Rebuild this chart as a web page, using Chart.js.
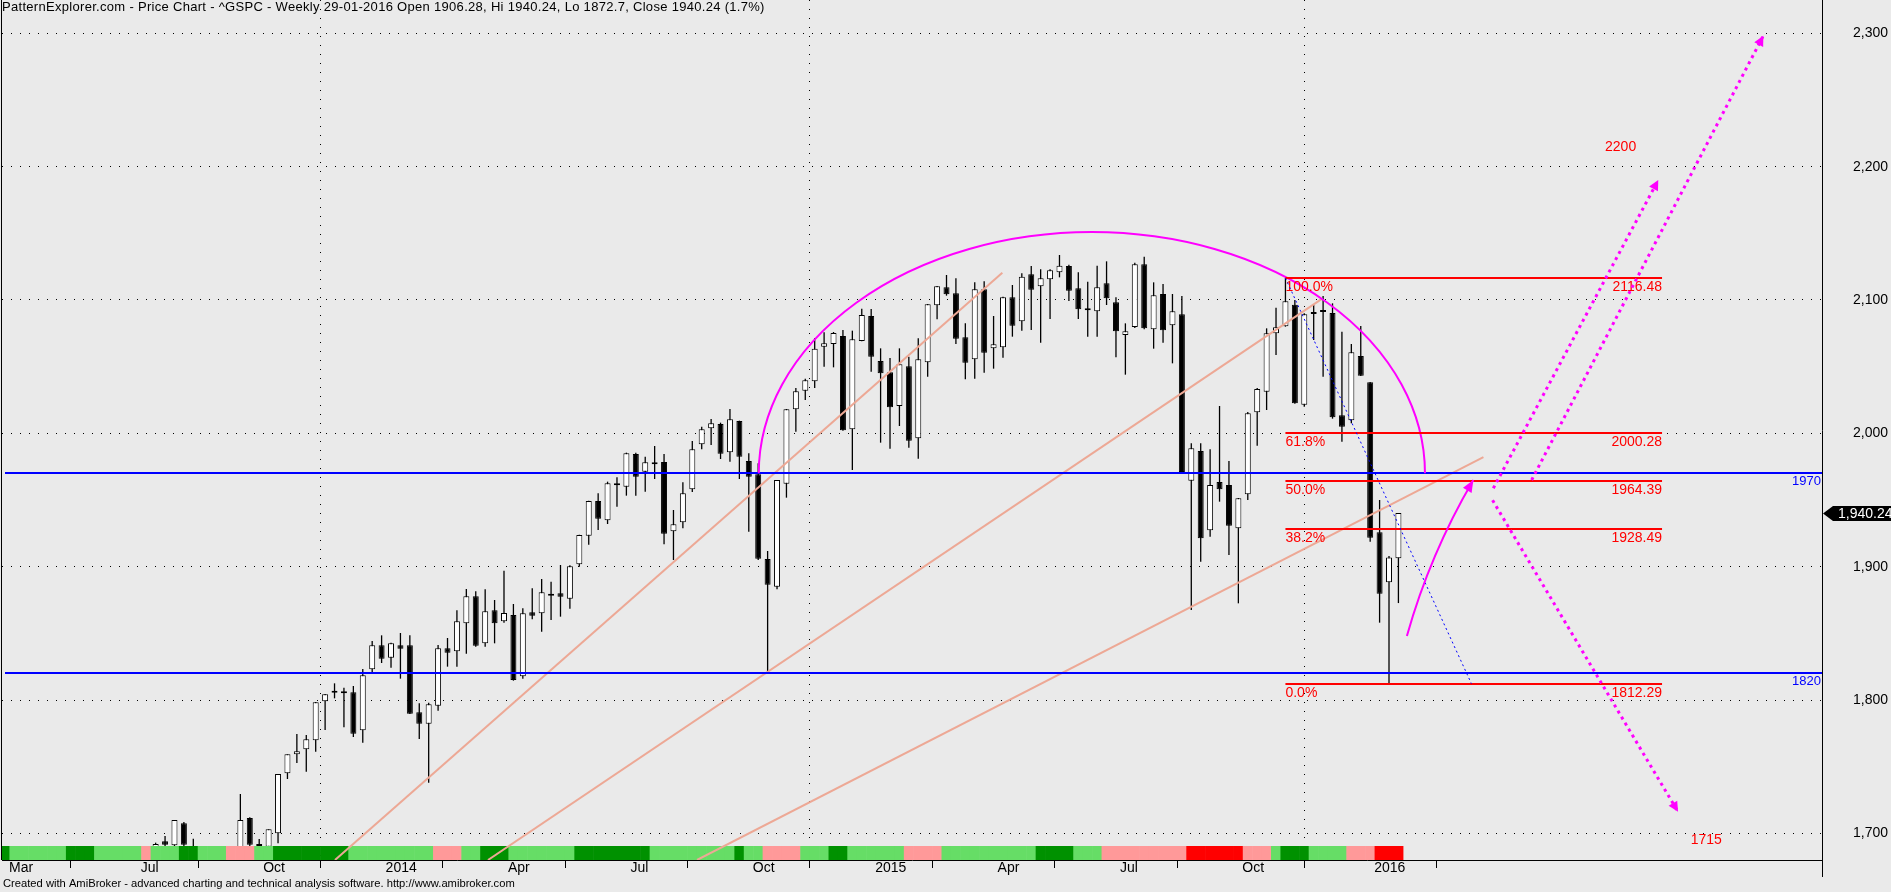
<!DOCTYPE html>
<html>
<head>
<meta charset="utf-8">
<title>^GSPC Weekly</title>
<script src="https://cdn.jsdelivr.net/npm/chart.js@4.4.1/dist/chart.umd.min.js"></script>
<style>
  html, body { margin: 0; padding: 0; background: #eaeaea; overflow: hidden; }
  #wrap { width: 1891px; height: 892px; }
</style>
</head>
<body>
<div id="wrap"><canvas id="chart" width="1891" height="892"></canvas></div>
<script>
// ---- Weekly S&P 500 (^GSPC) bars, week ending 28-03-2013 .. 29-01-2016 ----
const opens = [
  1552, 1569, 1553, 1588, 1556, 1582, 1614, 1633, 1666, 1652, 1631, 1643, 1626, 1593, 1607, 1632,
  1680, 1694, 1691, 1707.5, 1690, 1656, 1664, 1635, 1656, 1688, 1711.5, 1691, 1690, 1700, 1745, 1759.25,
  1763, 1769.75, 1799, 1805.5, 1806.5, 1805.75, 1777.25, 1823, 1841, 1831.75, 1841, 1841, 1790.75, 1782.25, 1795.75, 1838.75,
  1836.5, 1857.5, 1877.75, 1842.5, 1867.25, 1859, 1863.75, 1817.75, 1865.75, 1865, 1878.75, 1880, 1876, 1901.75, 1923.25, 1949.25,
  1934.75, 1962.5, 1960, 1984.5, 1971.25, 1976.75, 1978.5, 1926.5, 1933.25, 1958, 1991.75, 2003.75, 2007, 1985.75, 2009.25, 1979.25,
  1969.25, 1905.75, 1885, 1962.25, 2018, 2032, 2039, 2065, 2067, 2073, 2003, 2069.25, 2088, 2054.25, 2045.75, 2020.5,
  2050.25, 1996.25, 2053.25, 2096, 2109.5, 2105, 2072, 2055.5, 2108, 2063.75, 2064.5, 2102, 2084, 2119.25, 2110.25, 2115.5,
  2120.75, 2125.5, 2108.75, 2092.25, 2091.5, 2112.5, 2098.25, 2073.75, 2079.75, 2126.75, 2078, 2104.5, 2081, 2089.25, 1964.5, 1986.75,
  1927.25, 1963.5, 1961.25, 1928.75, 1954.25, 2015.75, 2031.25, 2075, 2080.25, 2096.5, 2021.5, 2089.5, 2091, 2090.25, 2013.5, 2009.75,
  2058, 2038.25, 1925.75, 1888.25, 1906.28
];
const highs = [
  1570, 1573, 1597, 1589, 1592, 1618, 1635, 1667, 1687, 1674, 1644, 1654, 1654, 1620, 1632, 1687,
  1693, 1698, 1710, 1708.5, 1696, 1669, 1670, 1664, 1689, 1729.5, 1712, 1695.75, 1703, 1744.5, 1759.25, 1774.5,
  1773.75, 1798.5, 1804.5, 1812.5, 1809.25, 1810.5, 1823.25, 1844.25, 1848.5, 1843, 1850.25, 1848.5, 1797.5, 1798, 1841.25, 1846.5,
  1867.25, 1883.25, 1881.5, 1883, 1875, 1897, 1872, 1868.75, 1883.75, 1890.75, 1888.75, 1901.25, 1901, 1924, 1949.5, 1955,
  1963.75, 1967, 1985.5, 1985.5, 1982.5, 1990.5, 1984.5, 1942.5, 1963.25, 1994.25, 2005, 2010.75, 2008, 2018.25, 2009.5, 1985,
  1977.5, 1911.75, 1965, 2018.25, 2034, 2041, 2071.5, 2075.75, 2076, 2077.5, 2077, 2093.5, 2093.25, 2063.75, 2056.5, 2063.75,
  2057.5, 2071.25, 2097, 2110.5, 2118.75, 2116.25, 2082.5, 2113.25, 2114, 2088, 2102.5, 2111.25, 2120, 2125.5, 2123, 2123,
  2133.75, 2126.5, 2120.75, 2113.75, 2125.75, 2129, 2102, 2082.5, 2128, 2132.5, 2113.25, 2112, 2104.5, 2103, 1992.5, 1992.5,
  1988, 2020.5, 1979.25, 1951.5, 2016, 2034, 2078.75, 2094.25, 2116.48, 2100, 2090, 2096.5, 2103, 2097.5, 2076.25, 2067,
  2080.5, 2038.5, 1950, 1908, 1940.24
];
const lows = [
  1546, 1539, 1548, 1536, 1555, 1577, 1614, 1625, 1635, 1631, 1599, 1620, 1577, 1560, 1605, 1632,
  1672, 1676, 1681, 1685, 1652, 1639, 1627, 1633, 1655, 1686, 1687, 1670, 1646, 1692.5, 1740.75, 1752.75,
  1746.25, 1761.25, 1777.5, 1801.25, 1779.5, 1772.25, 1768, 1821, 1827.75, 1824.25, 1816, 1789.5, 1770.75, 1738, 1792, 1825,
  1825, 1834.75, 1840, 1840, 1842.5, 1858, 1814.5, 1816, 1860.5, 1851.25, 1860, 1862.5, 1868.5, 1900, 1916.5, 1927.5,
  1932, 1945, 1953.25, 1953.25, 1956.25, 1965.75, 1916.75, 1905, 1928.75, 1956, 1988, 1991.25, 1980.75, 1978.75, 1965.75, 1926.25,
  1905, 1820.5, 1883, 1951.75, 2001.25, 2025, 2034, 2050, 2049.5, 2002, 1972.5, 2069, 2046.25, 1993, 1988.5, 2005.5,
  1989.25, 1981, 2042.5, 2085.5, 2103.25, 2067, 2040.5, 2041, 2045.5, 2048.5, 2056.75, 2072.5, 2077, 2077.5, 2068, 2085.75,
  2117, 2099.25, 2085.75, 2072.5, 2072.5, 2096.25, 2057, 2044, 2079, 2078, 2063.5, 2068, 2052.5, 1971, 1867.5, 1903.75,
  1922.5, 1948.75, 1908.75, 1872.5, 1950, 1990.75, 2017.5, 2058.75, 2080, 2022.25, 2020, 2070, 2042.5, 2011, 1993.75, 2007.5,
  2043, 1918.75, 1858, 1812.29, 1872.7
];
const closes = [
  1569, 1553, 1588, 1555, 1582, 1614, 1633, 1667, 1650, 1631, 1643, 1626, 1593, 1606, 1632, 1680,
  1692, 1691.5, 1710, 1691.5, 1656, 1664, 1633, 1655, 1688, 1710, 1691.5, 1690.5, 1703, 1744.5, 1759.25, 1761.5,
  1770.5, 1798.25, 1804.25, 1805.75, 1805, 1774.75, 1818.5, 1841, 1831, 1842.5, 1838.5, 1789.75, 1782.25, 1796.75, 1838.75, 1835.5,
  1859, 1877.75, 1840.75, 1866.5, 1857.5, 1865.25, 1815, 1865, 1863.25, 1880.75, 1878.25, 1877.5, 1900.25, 1923.75, 1949.25, 1936,
  1962.5, 1961, 1985, 1967.5, 1978.25, 1978.25, 1924.75, 1931.75, 1955, 1988, 2003, 2007.5, 1984.75, 2010.5, 1982.5, 1967.5,
  1906, 1886.5, 1965, 2018, 2031.5, 2039.75, 2063.5, 2067.5, 2075.25, 2002.25, 2070.5, 2088.75, 2057.5, 2045, 2019.5, 2051.75,
  1994.5, 2055.5, 2096.75, 2110.25, 2104.25, 2071, 2053, 2108, 2060.5, 2066.75, 2102, 2080.75, 2117.5, 2107.75, 2116.25, 2122.25,
  2125.75, 2107, 2093, 2093.75, 2109.5, 2101.25, 2076.5, 2076.5, 2126.75, 2078.75, 2103.5, 2077.25, 2091.5, 1971, 1988.75, 1921.25,
  1961.25, 1958, 1930.75, 1951.25, 2015, 2033.25, 2075, 2079.5, 2099, 2022.5, 2089.25, 2089.75, 2091.25, 2012, 2005, 2060.75,
  2043.25, 1921.75, 1879.75, 1906.9, 1940.24
];
// trend state strip under the bars: L light green, D dark green, P pink, R red
const ribbonCodes =
  'DLLLLLLDDDLLLLLPLLLDDLLLPPPLLDDDDDDDDLLLLLLLLLPPPLLDDDLLLLLLLDDDDDDDDLLLLLLLLLDLLPPPPLLLDDLLLLLLPPPPLLLLLLLLLLDDDDLLLPPPPPPPPPRRRRRRPPPLDDDLLLLPPPRRR';

// date axis
const xTickBars   = [0, 14, 27, 40, 53, 66, 79, 92, 105, 118, 131, 145];
const xTickLabels = ['Mar', 'Jul', 'Oct', '2014', 'Apr', 'Jul', 'Oct', '2015', 'Apr', 'Jul', 'Oct', '2016'];
const yearTickBars = [40, 92, 145];
// price axis
const yTickValues = [1700, 1800, 1900, 2000, 2100, 2200, 2300];

// horizontal support / resistance
const levelValues = [1970, 1820];
// fibonacci retracement of the Nov-2015 high to the Jan-2016 low
const fibStartBar = 136, fibEndBar = 176;
const fibPercents = ['100.0%', '61.8%', '50.0%', '38.2%', '0.0%'];
const fibLevels   = [2116.48, 2000.28, 1964.39, 1928.49, 1812.29];
// rising trendlines [bar, value] -> [bar, value]
const trendLines = [
  [[35.05, 1680], [105.93, 2120.4]],
  [[51.3, 1680], [139.83, 2100.7]],
  [[73.5, 1680], [157.03, 1982.2]]
];
// rounded top: centre bar, base value, half width in bars, height in points
const domeCentreBar = 115.44, domeBase = 1970, domeHalfBars = 35.38, domeHeight = 181;
// projected paths
const dropLine = [[136, 2116.48], [155.75, 1812.29]];
const reboundArrow = [[148.9, 1848], [151.36, 1909.7], [155.96, 1965]];
const targetPaths = [
  [[158.08, 1958.8], [175.6, 2190]],
  [[162.15, 1965], [186.76, 2298.2]],
  [[158.0, 1949.8], [177.7, 1716.1]]
];
const targetNotes = [['2200', 171.6, 2215], ['1715', 180.7, 1695]];

const ribbonPalette = { L: '#66dd66', D: '#009100', P: '#ff9999', R: '#ff0000' };
const FONT = "'Liberation Sans', Arial, sans-serif";

const barIdx = opens.map((_, i) => i);
const wickData = barIdx.map(i => ({ x: i, y: [lows[i], highs[i]] }));
const bodyData = barIdx.map(i => ({ x: i, y: [opens[i], closes[i]] }));
const bodyColors = barIdx.map(i => closes[i] >= opens[i] ? '#ffffff' : '#000000');
const ribbonData = barIdx.map(i => ({ x: i, y: [1680, 1690.5] }));
const ribbonColors = barIdx.map(i => ribbonPalette[ribbonCodes[i]]);

const fmt = (v, d) => v.toLocaleString('en-US', { minimumFractionDigits: d, maximumFractionDigits: d });

function arrowHead(ctx, from, to, len, wid) {
  const ang = Math.atan2(to[1] - from[1], to[0] - from[0]);
  ctx.beginPath();
  ctx.moveTo(to[0], to[1]);
  ctx.lineTo(to[0] - len * Math.cos(ang) + wid * Math.sin(ang), to[1] - len * Math.sin(ang) - wid * Math.cos(ang));
  ctx.lineTo(to[0] - len * Math.cos(ang) - wid * Math.sin(ang), to[1] - len * Math.sin(ang) + wid * Math.cos(ang));
  ctx.closePath();
  ctx.fill();
}

const backdrop = {
  id: 'backdrop',
  beforeDraw(chart) {
    const { ctx, width, height } = chart;
    ctx.save();
    ctx.fillStyle = '#eaeaea';
    ctx.fillRect(0, 0, width, height);
    ctx.restore();
  }
};

const drawings = {
  id: 'drawings',
  afterDatasetsDraw(chart) {
    const { ctx, chartArea: a } = chart;
    const xs = chart.scales.x, ys = chart.scales.y;
    const P = (b, v) => [xs.getPixelForValue(b), ys.getPixelForValue(v)];
    ctx.save();
    ctx.beginPath();
    ctx.rect(a.left, a.top, a.right - a.left, a.bottom - a.top);
    ctx.clip();

    // trendlines
    ctx.strokeStyle = '#eda895';
    ctx.lineWidth = 2;
    trendLines.forEach(([p, q]) => {
      const s = P(...p), e = P(...q);
      ctx.beginPath(); ctx.moveTo(s[0], s[1]); ctx.lineTo(e[0], e[1]); ctx.stroke();
    });

    // support / resistance
    ctx.strokeStyle = '#0000ff';
    ctx.lineWidth = 2;
    ctx.font = `13px ${FONT}`;
    ctx.fillStyle = '#0000ff';
    ctx.textAlign = 'right';
    ctx.textBaseline = 'top';
    levelValues.forEach(v => {
      const y = Math.round(ys.getPixelForValue(v));
      ctx.beginPath(); ctx.moveTo(xs.getPixelForValue(0), y); ctx.lineTo(a.right, y); ctx.stroke();
      ctx.fillText(String(v), a.right - 1, y + 2);
    });

    // dome
    const c = P(domeCentreBar, domeBase);
    const rx = xs.getPixelForValue(domeCentreBar + domeHalfBars) - c[0];
    const ry = c[1] - ys.getPixelForValue(domeBase + domeHeight);
    ctx.strokeStyle = '#ff00ff';
    ctx.lineWidth = 2;
    ctx.beginPath();
    ctx.ellipse(c[0], c[1], rx, ry, 0, Math.PI, 2 * Math.PI);
    ctx.stroke();

    // fibonacci levels
    const fx0 = xs.getPixelForValue(fibStartBar), fx1 = xs.getPixelForValue(fibEndBar);
    ctx.strokeStyle = '#ff0000';
    ctx.fillStyle = '#ff0000';
    ctx.lineWidth = 2;
    ctx.font = `14px ${FONT}`;
    fibLevels.forEach((v, k) => {
      const y = Math.round(ys.getPixelForValue(v));
      ctx.beginPath(); ctx.moveTo(fx0, y); ctx.lineTo(fx1, y); ctx.stroke();
      ctx.textAlign = 'left';
      ctx.fillText(fibPercents[k], fx0, y + 2);
      ctx.textAlign = 'right';
      ctx.fillText(v.toFixed(2), fx1, y + 2);
    });

    // drop from the high to the low
    ctx.strokeStyle = '#0000ff';
    ctx.lineWidth = 1;
    ctx.setLineDash([2, 3]);
    let s = P(...dropLine[0]), e = P(...dropLine[1]);
    ctx.beginPath(); ctx.moveTo(s[0], s[1]); ctx.lineTo(e[0], e[1]); ctx.stroke();
    ctx.setLineDash([]);

    // rebound arrow
    const r0 = P(...reboundArrow[0]), r1 = P(...reboundArrow[1]), r2 = P(...reboundArrow[2]);
    ctx.strokeStyle = '#ff00ff';
    ctx.fillStyle = '#ff00ff';
    ctx.lineWidth = 2;
    ctx.beginPath(); ctx.moveTo(r0[0], r0[1]); ctx.quadraticCurveTo(r1[0], r1[1], r2[0], r2[1]); ctx.stroke();
    arrowHead(ctx, r1, r2, 12, 5);

    // projected targets
    ctx.lineWidth = 3;
    ctx.setLineDash([3, 4]);
    targetPaths.forEach(([p, q]) => {
      const a0 = P(...p), a1 = P(...q);
      ctx.beginPath(); ctx.moveTo(a0[0], a0[1]); ctx.lineTo(a1[0], a1[1]); ctx.stroke();
    });
    ctx.setLineDash([]);
    targetPaths.forEach(([p, q]) => arrowHead(ctx, P(...p), P(...q), 10, 5));

    ctx.fillStyle = '#ff0000';
    ctx.font = `14px ${FONT}`;
    ctx.textAlign = 'center';
    ctx.textBaseline = 'middle';
    targetNotes.forEach(([t, b, v]) => {
      const p = P(b, v);
      ctx.fillText(t, p[0], p[1]);
    });
    ctx.restore();
  },
  afterDraw(chart) {
    const { ctx, chartArea: a } = chart;
    const ys = chart.scales.y;
    const last = closes.length - 1;
    ctx.save();

    // frame pieces
    ctx.strokeStyle = '#000';
    ctx.lineWidth = 1;
    ctx.beginPath(); ctx.moveTo(a.left - 0.5, a.top); ctx.lineTo(a.left - 0.5, a.bottom); ctx.stroke();
    ctx.beginPath(); ctx.moveTo(a.right + 0.5, a.bottom); ctx.lineTo(a.right + 0.5, a.bottom + 17); ctx.stroke();

    // last price marker
    const ty = Math.round(ys.getPixelForValue(closes[last])) + 0.5;
    const ax = a.right + 1;
    ctx.fillStyle = '#000';
    ctx.beginPath();
    ctx.moveTo(ax, ty);
    ctx.lineTo(ax + 10, ty - 7.5);
    ctx.lineTo(chart.width, ty - 7.5);
    ctx.lineTo(chart.width, ty + 7.5);
    ctx.lineTo(ax + 10, ty + 7.5);
    ctx.closePath();
    ctx.fill();
    ctx.fillStyle = '#fff';
    ctx.font = `14px ${FONT}`;
    ctx.textAlign = 'left';
    ctx.textBaseline = 'middle';
    ctx.fillText(fmt(closes[last], 2), ax + 15, ty + 0.5);

    // title
    const chg = ((closes[last] - closes[last - 1]) / closes[last - 1] * 100).toFixed(1);
    const title = `PatternExplorer.com - Price Chart - ^GSPC - Weekly 29-01-2016 Open ${opens[last]}, Hi ${highs[last]}, Lo ${lows[last]}, Close ${closes[last]} (${chg}%)`;
    ctx.fillStyle = '#000';
    ctx.font = `13px ${FONT}`;
    ctx.textBaseline = 'top';
    if ('letterSpacing' in ctx) {
      ctx.letterSpacing = '0.3px';
      ctx.fillText(title, 2, 1);
      ctx.letterSpacing = '0px';
    } else {
      ctx.save();
      ctx.translate(2, 1);
      ctx.scale(1.05, 1);
      ctx.fillText(title, 0, 0);
      ctx.restore();
    }

    // footer
    ctx.font = `11.2px ${FONT}`;
    ctx.textBaseline = 'middle';
    ctx.fillText('Created with AmiBroker - advanced charting and technical analysis software. http://www.amibroker.com', 3, 884);
    ctx.restore();
  }
};

new Chart(document.getElementById('chart'), {
  type: 'bar',
  data: {
    datasets: [
      { label: 'range', data: wickData, backgroundColor: '#000', barThickness: 1.3, inflateAmount: 0, grouped: false, order: 3 },
      { label: 'body', data: bodyData, backgroundColor: bodyColors, borderColor: '#000', borderWidth: 1,
        borderSkipped: false, barThickness: 6, minBarLength: 2, inflateAmount: 0, grouped: false, order: 2 },
      { label: 'trend', data: ribbonData, backgroundColor: ribbonColors, barThickness: 10, inflateAmount: 0, grouped: false, order: 1 }
    ]
  },
  options: {
    responsive: false,
    animation: false,
    devicePixelRatio: 1,
    events: [],
    layout: { padding: { left: 2, right: 3, top: 0, bottom: 0 } },
    plugins: { legend: { display: false }, tooltip: { enabled: false } },
    scales: {
      x: {
        type: 'linear',
        position: 'bottom',
        min: -0.319,
        max: 192.99,
        offset: false,
        afterBuildTicks: s => { s.ticks = xTickBars.map(v => ({ value: v })); },
        afterFit: s => { s.height = 32; s.paddingLeft = 0; s.paddingRight = 0; },
        ticks: {
          autoSkip: false, maxRotation: 0, minRotation: 0, align: 'start', padding: -8, labelOffset: 4,
          color: '#000', font: { family: FONT, size: 14 },
          callback: (v, i) => xTickLabels[i]
        },
        grid: {
          color: ctx => (ctx.tick && yearTickBars.includes(ctx.tick.value)) ? '#000' : 'rgba(0,0,0,0)',
          lineWidth: 1, drawTicks: true, tickLength: 8, tickColor: '#000', tickWidth: 1
        },
        border: { display: true, color: '#000', width: 1, dash: [1, 8] }
      },
      y: {
        position: 'right',
        min: 1680,
        max: 2325,
        afterBuildTicks: s => { s.ticks = yTickValues.map(v => ({ value: v })); },
        afterFit: s => { s.width = 66; s.paddingTop = 0; s.paddingBottom = 0; },
        ticks: {
          padding: 31, crossAlign: 'near', color: '#000', font: { family: FONT, size: 14 },
          callback: v => fmt(v, 0)
        },
        grid: { color: '#000', lineWidth: 1, drawTicks: false },
        border: { display: true, color: '#000', width: 1, dash: [1, 8] }
      }
    }
  },
  plugins: [backdrop, drawings]
});
</script>
</body>
</html>
